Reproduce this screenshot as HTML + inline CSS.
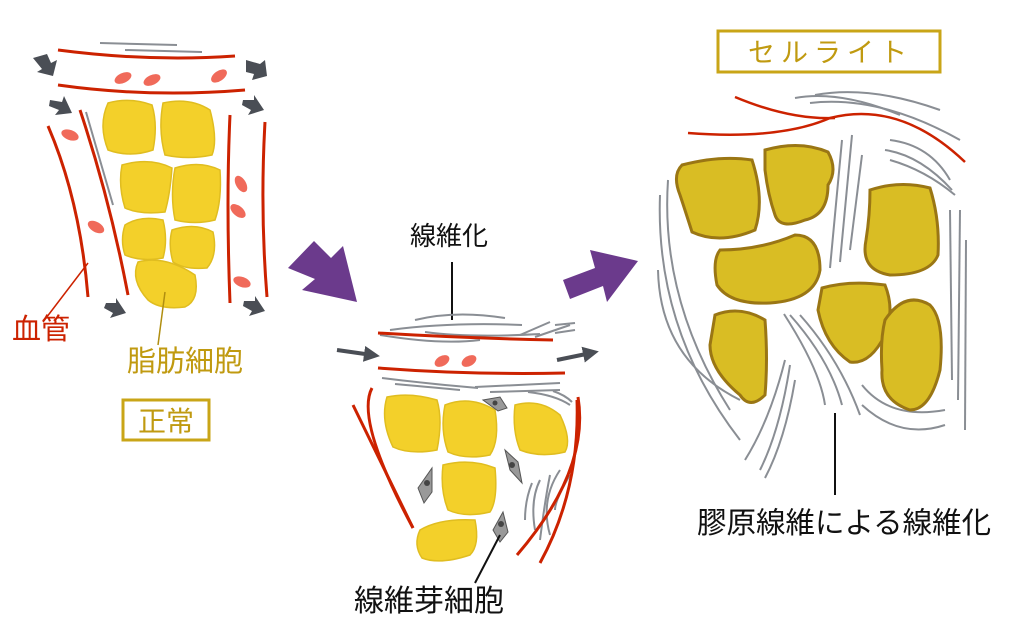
<!DOCTYPE html>
<html><head><meta charset="utf-8"><style>
body{margin:0;background:#fff;width:1024px;height:636px;overflow:hidden}
svg{display:block}
text{font-family:"Liberation Sans","Noto Sans CJK JP",sans-serif}
</style></head><body>
<svg width="1024" height="636" viewBox="0 0 1024 636">
<defs>
<marker id="ah" markerWidth="4" markerHeight="4" refX="2" refY="2" orient="auto"><path d="M0,0L4,2L0,4z" fill="#4a4e55"/></marker>
</defs>
<!-- LEFT PANEL -->
<g fill="none" stroke="#8a8e94" stroke-width="2">
<path d="M100,43L177,45"/><path d="M125,50L202,52"/><path d="M86,112L113,205"/>
</g>
<g fill="none" stroke="#cc2200" stroke-width="3">
<path d="M58,50Q150,62 235,56"/>
<path d="M58,85Q150,98 245,90"/>
<path d="M48,126Q80,200 88,297"/>
<path d="M80,110Q110,200 128,295"/>
<path d="M230,115Q226,200 230,303"/>
<path d="M265,122Q260,210 267,297"/>
</g>
<g fill="#f06a5a">
<ellipse cx="123" cy="78" rx="9" ry="5" transform="rotate(-25 123 78)"/>
<ellipse cx="152" cy="80" rx="9" ry="5" transform="rotate(-25 152 80)"/>
<ellipse cx="219" cy="76" rx="9" ry="5" transform="rotate(-35 219 76)"/>
<ellipse cx="70" cy="135" rx="9" ry="5" transform="rotate(20 70 135)"/>
<ellipse cx="96" cy="227" rx="9" ry="5" transform="rotate(30 96 227)"/>
<ellipse cx="241" cy="184" rx="9" ry="5" transform="rotate(60 241 184)"/>
<ellipse cx="238" cy="211" rx="9" ry="5" transform="rotate(40 238 211)"/>
<ellipse cx="242" cy="282" rx="9" ry="5" transform="rotate(20 242 282)"/>
</g>
<g fill="#4a4e55">
<path d="M33,58l14,-4l4,9l6,-3l-4,16l-16,-4l5,-3z"/>
<path d="M246,60l14,4l5,-4l2,16l-15,4l2,-6l-8,-2z"/>
<path d="M50,100l12,2l2,-6l8,17l-17,2l4,-5l-10,-4z"/>
<path d="M243,100l11,0l0,-5l10,15l-16,5l3,-5l-9,-5z"/>
<path d="M106,303l10,0l0,-5l10,15l-16,5l3,-5l-9,-5z"/>
<path d="M244,301l11,0l0,-5l10,15l-16,5l3,-5l-9,-5z"/>
</g>
<g fill="#f3d02a" stroke="#e0bd20" stroke-width="1.5">
<path d="M108,103Q130,97 152,105Q158,125 153,150Q130,158 108,150Q98,125 108,103z"/>
<path d="M163,103Q190,97 210,110Q218,140 212,155Q188,160 165,155Q158,130 163,103z"/>
<path d="M122,165Q150,157 172,168Q170,195 165,212Q140,215 125,208Q118,185 122,165z"/>
<path d="M175,168Q200,160 220,170Q222,200 215,220Q195,225 175,220Q170,195 175,168z"/>
<path d="M125,225Q140,215 163,220Q168,240 163,258Q140,262 125,255Q120,240 125,225z"/>
<path d="M172,230Q195,222 213,232Q218,255 207,268Q185,270 173,262Q168,245 172,230z"/>
<path d="M138,262Q165,255 195,275Q200,300 185,307Q160,310 148,300Q130,280 138,262z"/>
</g>
<path d="M43,322L88,263" stroke="#cc2200" stroke-width="1.5"/>
<path d="M165,292L158,345" stroke="#b08e10" stroke-width="1.5"/>
<text x="12" y="339" font-size="29" fill="#cc2200">血管</text>
<text x="127" y="371" font-size="29" fill="#c09a10">脂肪細胞</text>
<rect x="123" y="400" width="86" height="40" fill="none" stroke="#c9a517" stroke-width="3"/>
<text x="138" y="431" font-size="28" fill="#c09a10">正常</text>
<!-- purple arrows -->
<path d="M288,268L314,241L331,258L343,246L357,302L302,290L315,279z" fill="#6b3a8c"/>
<path d="M563,280L595,268L590,250L638,261L607,302L603,286L570,299z" fill="#6b3a8c"/>
<!-- MIDDLE PANEL -->
<text x="410" y="245" font-size="26" fill="#111">線維化</text>
<path d="M452,262L452,320" stroke="#111" stroke-width="2"/>
<g fill="none" stroke="#8a8e94" stroke-width="2">
<path d="M415,320Q455,310 505,318"/><path d="M390,330Q450,322 522,325"/>
<path d="M380,335Q440,345 480,340"/><path d="M425,332Q470,338 540,334"/>
<path d="M520,335L550,322"/><path d="M535,337L570,325"/><path d="M555,325L575,323"/><path d="M555,333L575,330"/>
<path d="M382,378Q430,384 478,388"/><path d="M395,384Q440,388 460,390"/>
<path d="M475,387L560,383"/><path d="M490,392L560,390"/>
<path d="M528,392Q555,395 570,405"/><path d="M553,391Q565,395 572,402"/>
<path d="M532,483Q525,500 525,520"/><path d="M540,480Q530,500 535,530"/>
<path d="M550,475Q545,500 540,540"/><path d="M560,470Q540,500 550,535"/>
<path d="M570,475Q555,500 555,510"/>
</g>
<g fill="none" stroke="#cc2200" stroke-width="3">
<path d="M378,333Q460,338 553,340"/>
<path d="M378,368Q470,375 565,373"/>
<path d="M372,388Q355,420 413,528"/>
<path d="M353,405L413,528"/>
<path d="M578,397Q590,470 517,555"/>
<path d="M577,400Q580,490 540,563"/>
</g>
<g fill="#f06a5a">
<ellipse cx="442" cy="361" rx="8" ry="5" transform="rotate(-30 442 361)"/>
<ellipse cx="469" cy="361" rx="8" ry="5" transform="rotate(-30 469 361)"/>
</g>
<path d="M337,350L372,355" stroke="#4a4e55" stroke-width="4" marker-end="url(#ah)"/>
<path d="M557,360L591,353" stroke="#4a4e55" stroke-width="4" marker-end="url(#ah)"/>
<g fill="#f3d02a" stroke="#e0bd20" stroke-width="1.5">
<path d="M387,397Q410,392 437,400Q443,420 437,450Q410,455 393,447Q380,420 387,397z"/>
<path d="M445,405Q470,395 495,410Q500,440 490,455Q465,460 448,452Q440,430 445,405z"/>
<path d="M515,405Q540,398 560,415Q572,440 565,452Q540,458 520,450Q512,430 515,405z"/>
<path d="M443,465Q470,458 495,468Q498,500 490,512Q465,518 448,510Q440,490 443,465z"/>
<path d="M420,530Q440,518 475,520Q480,545 470,555Q440,565 422,558Q413,545 420,530z"/>
</g>
<g fill="#999" stroke="#555" stroke-width="1">
<path d="M483,400L500,397L507,408L498,411z"/>
<path d="M505,450L518,462L522,483L510,470z"/>
<path d="M418,488L432,468L432,492L424,503z"/>
<path d="M493,530L503,512L508,532L500,542z"/>
</g>
<g fill="#444"><circle cx="495" cy="403" r="2.5"/><circle cx="512" cy="465" r="3"/><circle cx="427" cy="483" r="3"/><circle cx="501" cy="524" r="3"/></g>
<path d="M475,583L500,535" stroke="#111" stroke-width="2"/>
<text x="354" y="611" font-size="30" fill="#111">線維芽細胞</text>
<!-- RIGHT PANEL -->
<rect x="718" y="31" width="222" height="41" fill="none" stroke="#c9a517" stroke-width="3"/>
<text x="748" y="62" font-size="27" fill="#c09a10" letter-spacing="6">セルライト</text>
<g fill="none" stroke="#cc2200" stroke-width="2.5">
<path d="M688,133Q780,140 830,118Q900,100 965,162"/>
<path d="M735,97Q790,120 835,118"/>
</g>
<g fill="none" stroke="#8a8e94" stroke-width="2">
<path d="M795,98Q840,90 900,115"/><path d="M815,95Q870,85 940,110"/><path d="M810,103Q880,95 960,140"/>
<path d="M890,140Q930,145 950,180"/><path d="M885,150Q920,155 952,190"/><path d="M890,160Q925,170 955,195"/>
<path d="M842,140L830,268"/><path d="M852,135L840,262"/><path d="M862,155L850,250"/>
<path d="M950,210L952,380"/><path d="M960,210L958,400"/><path d="M966,240L965,430"/>
<path d="M668,180Q660,300 730,410"/><path d="M660,195Q655,330 740,440"/><path d="M658,270Q660,360 740,400"/>
<path d="M784,314Q820,370 825,405"/><path d="M790,315Q830,360 842,405"/><path d="M800,315Q840,360 860,415"/>
<path d="M785,360Q770,420 745,460"/><path d="M790,365Q780,430 760,470"/><path d="M795,380Q785,440 765,478"/>
<path d="M862,385Q890,420 945,410"/><path d="M862,405Q900,440 945,425"/>
</g>
<g fill="#d9bd24" stroke="#9a7614" stroke-width="3">
<path d="M682,165Q720,155 752,160Q765,200 755,230Q720,245 692,232Q685,210 680,195Q672,175 682,165z"/>
<path d="M765,150Q800,140 828,152Q838,170 828,185Q828,215 805,220Q780,230 775,215Q768,195 765,170z"/>
<path d="M720,250Q760,250 795,235Q820,235 820,270Q815,300 770,303Q730,305 717,285Q712,260 720,250z"/>
<path d="M715,315Q740,305 765,320Q768,360 765,395Q750,410 740,395Q710,370 710,345z"/>
<path d="M870,190Q900,180 930,188Q940,220 938,255Q930,275 890,275Q860,270 866,240Q870,215 870,190z"/>
<path d="M822,288Q850,280 885,285Q895,310 885,335Q870,365 850,362Q825,345 818,310z"/>
<path d="M885,320Q905,290 930,305Q945,320 940,370Q930,410 910,410Q880,400 882,370Q880,340 885,320z"/>
</g>
<path d="M835,413L835,495" stroke="#111" stroke-width="2"/>
<text x="697" y="533" font-size="29.5" fill="#111">膠原線維による線維化</text>
</svg>
</body></html>
